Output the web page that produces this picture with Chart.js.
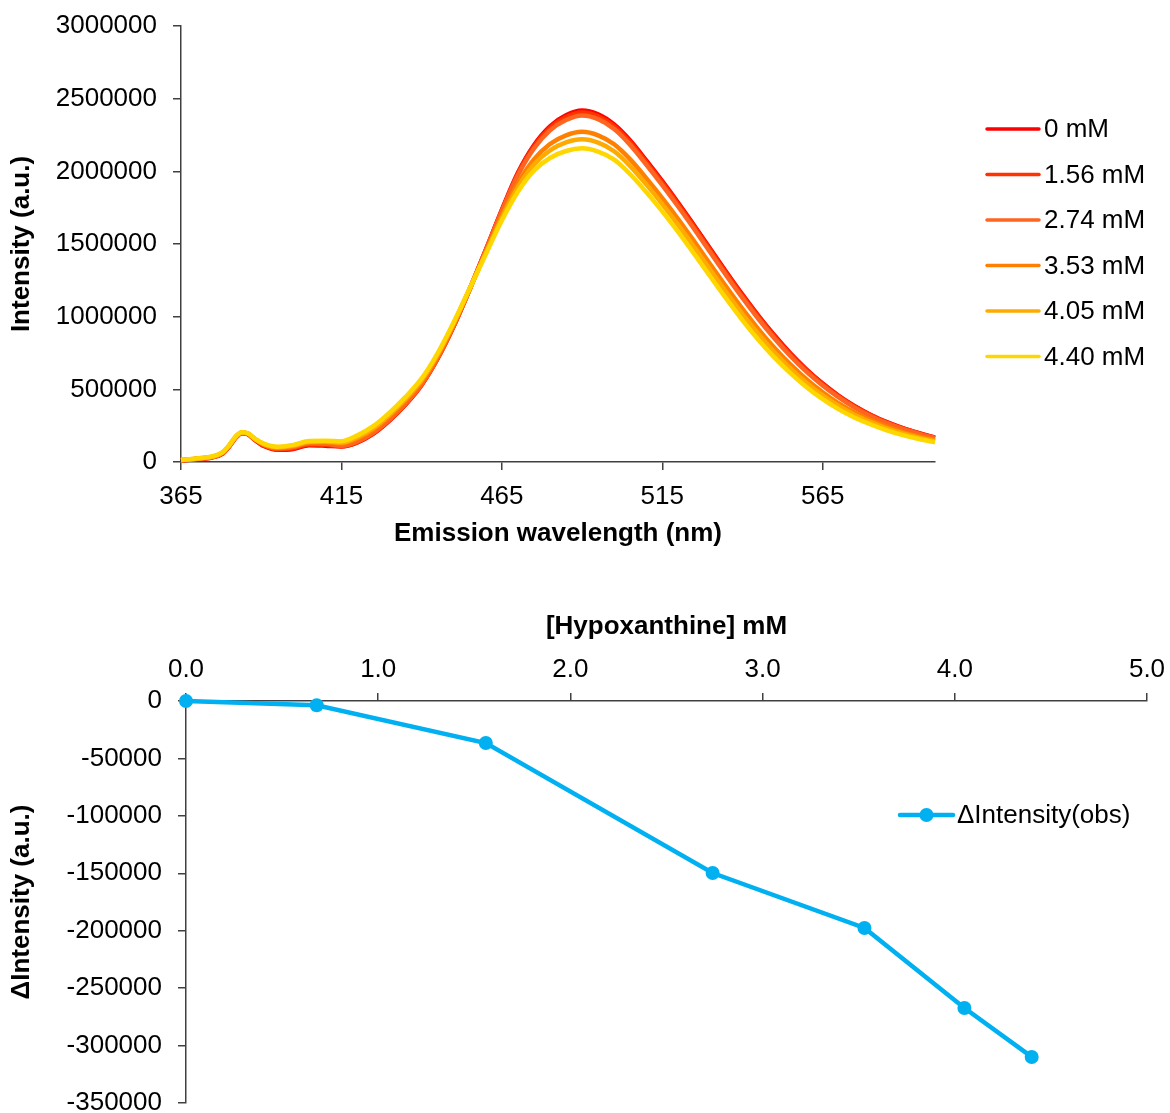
<!DOCTYPE html>
<html>
<head>
<meta charset="utf-8">
<title>Emission spectra and intensity change</title>
<script src="https://cdn.jsdelivr.net/npm/chart.js@4.4.1/dist/chart.umd.min.js"></script>
<style>
  html, body { margin: 0; padding: 0; background: #ffffff; overflow: hidden; }
  #spectra { position: absolute; left: 0; top: 0; }
  #delta { position: absolute; left: 0; top: 560px; }
</style>
</head>
<body>
<canvas id="spectra" width="1170" height="560"></canvas>
<canvas id="delta" width="1170" height="580"></canvas>
<script>
// ---- Emission spectra (top panel) ----
const wavelengths = [365, 370, 375, 378, 380, 382, 384, 386, 388, 391, 395, 400, 405, 410,
  415, 420, 425, 430, 435, 440, 445, 450, 455, 460, 465, 470, 475, 480, 485, 490, 495, 500,
  505, 510, 515, 520, 525, 530, 535, 540, 545, 550, 555, 560, 565, 570, 575, 580, 585, 590, 595, 600];

const concLabels = ['0 mM', '1.56 mM', '2.74 mM', '3.53 mM', '4.05 mM', '4.40 mM'];
const concColors = ['#ff0000', '#ff3200', '#ff6420', '#ff8000', '#ffaa00', '#ffd700'];

const int0mM = [10000, 20000, 33000, 58000, 105000, 165000, 198000, 190000, 152000, 108000, 84000, 90000, 116000, 112000,
  106000, 135000, 195000, 285000, 395000, 530000, 712000, 935000, 1190000, 1460000, 1735000, 1990000, 2180000, 2310000, 2385000, 2418000, 2392000, 2322000,
  2212000, 2075000, 1932000, 1782000, 1626000, 1466000, 1306000, 1152000, 1006000, 870000, 746000, 636000, 540000, 456000, 384000, 324000, 274000, 233000, 199000, 168000];
const int156mM = [11000, 21000, 35000, 60000, 108000, 168000, 200000, 191000, 154000, 112000, 88000, 95000, 120000, 118000,
  108000, 137000, 198000, 288000, 398000, 532000, 714000, 936000, 1190000, 1458000, 1731000, 1983000, 2171000, 2299000, 2373000, 2405000, 2379000, 2310000,
  2200000, 2064000, 1922000, 1772000, 1616000, 1456000, 1297000, 1143000, 998000, 862000, 739000, 630000, 535000, 451000, 380000, 321000, 271000, 231000, 197000, 166000];
const int274mM = [12000, 22000, 36000, 62000, 110000, 170000, 202000, 193000, 157000, 116000, 93000, 102000, 127000, 126000,
  111000, 141000, 202000, 292000, 402000, 536000, 717000, 939000, 1191000, 1456000, 1726000, 1973000, 2157000, 2282000, 2353000, 2384000, 2359000, 2291000,
  2182000, 2047000, 1905000, 1756000, 1601000, 1441000, 1282000, 1129000, 984000, 850000, 728000, 620000, 526000, 444000, 374000, 315000, 267000, 227000, 194000, 164000];
const int353mM = [12000, 23000, 37000, 64000, 112000, 172000, 203000, 194000, 158000, 119000, 98000, 108000, 135000, 136000,
  127000, 162000, 225000, 316000, 425000, 555000, 733000, 950000, 1193000, 1443000, 1694000, 1917000, 2082000, 2188000, 2248000, 2272000, 2248000, 2186000,
  2082000, 1953000, 1816000, 1670000, 1516000, 1359000, 1203000, 1053000, 913000, 785000, 670000, 568000, 480000, 403000, 340000, 287000, 243000, 206000, 176000, 150000];
const int405mM = [13000, 24000, 38000, 66000, 113000, 173000, 204000, 195000, 159000, 122000, 102000, 113000, 140000, 141000,
  134000, 171000, 235000, 327000, 435000, 564000, 741000, 956000, 1194000, 1437000, 1680000, 1891000, 2047000, 2144000, 2199000, 2220000, 2197000, 2138000,
  2036000, 1910000, 1775000, 1630000, 1477000, 1321000, 1166000, 1017000, 880000, 754000, 643000, 544000, 458000, 385000, 324000, 274000, 231000, 197000, 168000, 144000];
const int440mM = [14000, 25000, 40000, 68000, 115000, 175000, 205000, 196000, 161000, 125000, 105000, 118000, 145000, 146000,
  143000, 183000, 248000, 340000, 448000, 575000, 750000, 962000, 1195000, 1430000, 1662000, 1860000, 2005000, 2092000, 2140000, 2158000, 2135000, 2080000,
  1980000, 1858000, 1725000, 1582000, 1430000, 1275000, 1122000, 975000, 840000, 718000, 610000, 515000, 432000, 362000, 305000, 258000, 218000, 185000, 158000, 136000];

const spectraSeries = [int0mM, int156mM, int274mM, int353mM, int405mM, int440mM];
const wavelengthTicks = [365, 415, 465, 515, 565];

// ---- Intensity change vs. concentration (bottom panel) ----
const hypoxanthineConc = [0, 0.68, 1.56, 2.74, 3.53, 4.05, 4.40];
const deltaIntensity = [0, -3700, -36600, -149800, -197600, -267300, -309900];

const FONT = '"Liberation Sans", Arial, Helvetica, sans-serif';
const AXIS_COLOR = '#404040';
Chart.defaults.font.family = FONT;
Chart.defaults.font.size = 26;
Chart.defaults.color = '#000000';

// Legend with a short coloured stroke per concentration
const lineLegend = {
  id: 'lineLegend',
  afterDraw(chart, args, o) {
    const ctx = chart.ctx;
    ctx.save();
    ctx.font = '26px ' + FONT;
    ctx.textBaseline = 'middle';
    ctx.textAlign = 'left';
    chart.data.datasets.forEach((ds, i) => {
      const y = o.top + i * o.gap;
      ctx.strokeStyle = ds.borderColor;
      ctx.lineWidth = 3.5;
      ctx.lineCap = 'round';
      ctx.beginPath();
      ctx.moveTo(o.x0, y);
      ctx.lineTo(o.x1, y);
      ctx.stroke();
      ctx.fillStyle = '#000';
      ctx.fillText(ds.label, o.textX, y + 1);
    });
    ctx.restore();
  }
};

// Legend entry showing the line with its circular marker
const markerLegend = {
  id: 'markerLegend',
  afterDraw(chart, args, o) {
    const ctx = chart.ctx;
    const ds = chart.data.datasets[0];
    ctx.save();
    ctx.strokeStyle = ds.borderColor;
    ctx.lineWidth = ds.borderWidth;
    ctx.lineCap = 'round';
    ctx.beginPath();
    ctx.moveTo(o.x0, o.y);
    ctx.lineTo(o.x1, o.y);
    ctx.stroke();
    ctx.fillStyle = ds.pointBackgroundColor;
    ctx.beginPath();
    ctx.arc((o.x0 + o.x1) / 2, o.y, ds.pointRadius, 0, Math.PI * 2);
    ctx.fill();
    ctx.fillStyle = '#000';
    ctx.font = '26px ' + FONT;
    ctx.textBaseline = 'middle';
    ctx.fillText(ds.label, o.textX, o.y + 1);
    ctx.restore();
  }
};

// Fixed scale thickness; edge label overflow is left to the layout padding
function fixSize(prop, size) {
  return (s) => {
    s[prop] = size;
    s.paddingTop = 0; s.paddingBottom = 0; s.paddingLeft = 0; s.paddingRight = 0;
  };
}

function axisStyle(extra) {
  return Object.assign({
    border: { display: true, color: AXIS_COLOR, width: 1.5 },
    grid: { display: true, drawOnChartArea: false, drawTicks: true, tickLength: 8, color: AXIS_COLOR, lineWidth: 1.5 }
  }, extra);
}

new Chart(document.getElementById('spectra'), {
  type: 'line',
  data: {
    datasets: spectraSeries.map((vals, i) => ({
      label: concLabels[i],
      data: wavelengths.map((w, j) => ({ x: w, y: vals[j] })),
      borderColor: concColors[i],
      backgroundColor: concColors[i],
      borderWidth: 4.5,
      pointRadius: 0,
      cubicInterpolationMode: 'monotone',
      order: spectraSeries.length - 1 - i,
      clip: false
    }))
  },
  options: {
    responsive: false,
    animation: false,
    events: [],
    layout: { padding: { left: 2, right: 235, top: 26, bottom: 8 } },
    plugins: {
      legend: { display: false },
      tooltip: { enabled: false },
      lineLegend: { x0: 987, x1: 1039, textX: 1044, top: 129, gap: 45.5 }
    },
    scales: {
      x: axisStyle({
        type: 'linear',
        min: 365,
        max: 600,
        afterBuildTicks: (s) => { s.ticks = wavelengthTicks.map(v => ({ value: v })); },
        afterFit: fixSize('height', 90),
        ticks: { padding: 11, maxRotation: 0, callback: (v) => String(v) },
        title: { display: true, text: 'Emission wavelength (nm)', font: { size: 26, weight: 'bold' }, padding: { top: 4, bottom: 3 } }
      }),
      y: axisStyle({
        type: 'linear',
        min: 0,
        max: 3000000,
        ticks: { stepSize: 500000, padding: 16, callback: (v) => String(v) },
        afterFit: fixSize('width', 179),
        title: { display: true, text: 'Intensity (a.u.)', font: { size: 26, weight: 'bold' }, padding: { top: 4, bottom: 4 } }
      })
    }
  },
  plugins: [lineLegend]
});

new Chart(document.getElementById('delta'), {
  type: 'line',
  data: {
    datasets: [{
      label: 'ΔIntensity(obs)',
      data: hypoxanthineConc.map((c, i) => ({ x: c, y: deltaIntensity[i] })),
      borderColor: '#00b0f0',
      backgroundColor: '#00b0f0',
      pointBackgroundColor: '#00b0f0',
      pointBorderColor: '#00b0f0',
      borderWidth: 4.5,
      pointRadius: 7,
      pointBorderWidth: 0,
      tension: 0,
      clip: false
    }]
  },
  options: {
    responsive: false,
    animation: false,
    events: [],
    layout: { padding: { left: 2, right: 23, top: 47, bottom: 37 } },
    plugins: {
      legend: { display: false },
      tooltip: { enabled: false },
      markerLegend: { x0: 900, x1: 953, y: 255, textX: 957 }
    },
    scales: {
      x: axisStyle({
        type: 'linear',
        position: 'top',
        min: 0,
        max: 5,
        afterFit: fixSize('height', 94),
        ticks: { stepSize: 1, padding: 8, maxRotation: 0, callback: (v) => Number(v).toFixed(1) },
        title: { display: true, text: '[Hypoxanthine] mM', font: { size: 26, weight: 'bold' }, padding: { top: 4, bottom: 4 } }
      }),
      y: axisStyle({
        type: 'linear',
        min: -350000,
        max: 0,
        ticks: { stepSize: 50000, padding: 16, callback: (v) => String(v) },
        afterFit: fixSize('width', 184),
        title: { display: true, text: 'ΔIntensity (a.u.)', font: { size: 26, weight: 'bold' }, padding: { top: 4, bottom: 4 } }
      })
    }
  },
  plugins: [markerLegend]
});
</script>
</body>
</html>
